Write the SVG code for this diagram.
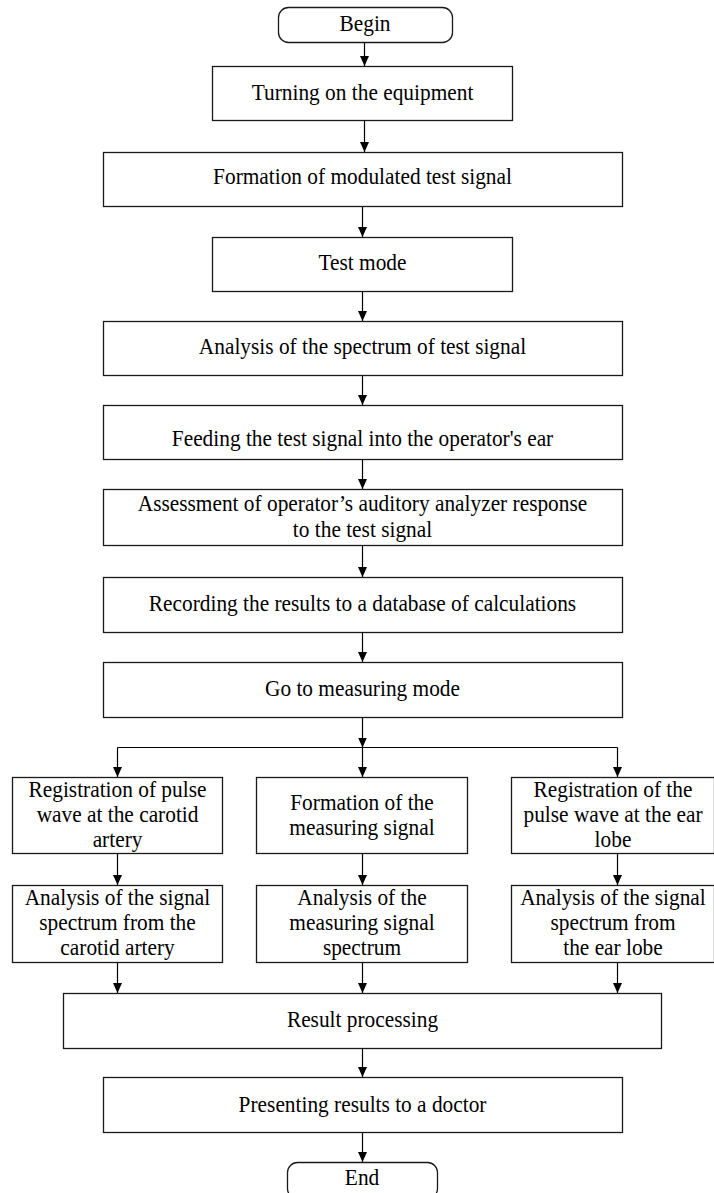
<svg xmlns="http://www.w3.org/2000/svg" width="714" height="1193" viewBox="0 0 714 1193">
<style>
.box{fill:#fff;stroke:#1a1a1a;stroke-width:1.3}
.t{font-family:'Liberation Serif','Tinos','Times New Roman','DejaVu Serif',serif;font-size:24px;fill:#000;text-anchor:middle;transform-box:fill-box;transform-origin:center;transform:scaleX(0.89)}
.ln{stroke:#000;stroke-width:1.2;fill:none}
</style>
<defs>
<marker id="ah" markerUnits="userSpaceOnUse" markerWidth="10" markerHeight="10" refX="10" refY="5" orient="auto">
<path d="M0,0.5 L10,5 L0,9.5 z" fill="#000"/>
</marker>
</defs>
<rect x="0" y="0" width="714" height="1193" fill="#fff"/>
<g id="connectors">
<line class="ln" x1="364.5" y1="42" x2="364.5" y2="66" marker-end="url(#ah)"/>
<line class="ln" x1="364.5" y1="121" x2="364.5" y2="152" marker-end="url(#ah)"/>
<line class="ln" x1="362.5" y1="207" x2="362.5" y2="237" marker-end="url(#ah)"/>
<line class="ln" x1="362.5" y1="292" x2="362.5" y2="321" marker-end="url(#ah)"/>
<line class="ln" x1="362.5" y1="376" x2="362.5" y2="405" marker-end="url(#ah)"/>
<line class="ln" x1="362.5" y1="460" x2="362.5" y2="489" marker-end="url(#ah)"/>
<line class="ln" x1="362.5" y1="546" x2="362.5" y2="577" marker-end="url(#ah)"/>
<line class="ln" x1="362.5" y1="633" x2="362.5" y2="662" marker-end="url(#ah)"/>
<line class="ln" x1="362.5" y1="718" x2="362.5" y2="747.5" marker-end="url(#ah)"/>
<line class="ln" x1="117.5" y1="747.5" x2="617.5" y2="747.5"/>
<line class="ln" x1="117.5" y1="747.5" x2="117.5" y2="777" marker-end="url(#ah)"/>
<line class="ln" x1="362.5" y1="747.5" x2="362.5" y2="777" marker-end="url(#ah)"/>
<line class="ln" x1="617.5" y1="747.5" x2="617.5" y2="777" marker-end="url(#ah)"/>
<line class="ln" x1="117.5" y1="854" x2="117.5" y2="885" marker-end="url(#ah)"/>
<line class="ln" x1="362.5" y1="854" x2="362.5" y2="885" marker-end="url(#ah)"/>
<line class="ln" x1="617.5" y1="854" x2="617.5" y2="885" marker-end="url(#ah)"/>
<line class="ln" x1="117.5" y1="963" x2="117.5" y2="993" marker-end="url(#ah)"/>
<line class="ln" x1="362.5" y1="963" x2="362.5" y2="993" marker-end="url(#ah)"/>
<line class="ln" x1="617.5" y1="963" x2="617.5" y2="993" marker-end="url(#ah)"/>
<line class="ln" x1="362.5" y1="1049" x2="362.5" y2="1077" marker-end="url(#ah)"/>
<line class="ln" x1="362.5" y1="1133" x2="362.5" y2="1162" marker-end="url(#ah)"/>
</g>
<g id="begin"><rect class="box" x="278.5" y="7.5" width="174" height="35" rx="10"/><text class="t" x="365" y="31.5">Begin</text></g>
<g id="turning"><rect class="box" x="212.5" y="66.5" width="300" height="54"/><text class="t" x="362.5" y="100.5">Turning on the equipment</text></g>
<g id="formation"><rect class="box" x="103.5" y="152.5" width="519" height="54"/><text class="t" x="362.5" y="184.5">Formation of modulated test signal</text></g>
<g id="testmode"><rect class="box" x="212.5" y="237.5" width="300" height="54"/><text class="t" x="362.5" y="270">Test mode</text></g>
<g id="analysis"><rect class="box" x="103.5" y="321.5" width="519" height="54"/><text class="t" x="362.5" y="354">Analysis of the spectrum of test signal</text></g>
<g id="feeding"><rect class="box" x="103.5" y="405.5" width="519" height="54"/><text class="t" x="362.5" y="446">Feeding the test signal into the operator's ear</text></g>
<g id="assessment"><rect class="box" x="103.5" y="489.5" width="519" height="56"/><text class="t" x="362.5" y="511">Assessment of operator’s auditory analyzer response</text><text class="t" x="362.5" y="537">to the test signal</text></g>
<g id="recording"><rect class="box" x="103.5" y="577.5" width="519" height="55"/><text class="t" x="362.5" y="611">Recording the results to a database of calculations</text></g>
<g id="measuring"><rect class="box" x="103.5" y="662.5" width="519" height="55"/><text class="t" x="362.5" y="696">Go to measuring mode</text></g>
<g id="reg-carotid"><rect class="box" x="12.5" y="777.5" width="210" height="76"/><text class="t" x="117.5" y="797">Registration of pulse</text><text class="t" x="117.5" y="822">wave at the carotid</text><text class="t" x="117.5" y="847">artery</text></g>
<g id="form-measuring"><rect class="box" x="256.5" y="777.5" width="211" height="76"/><text class="t" x="362" y="810">Formation of the</text><text class="t" x="362" y="835">measuring signal</text></g>
<g id="reg-ear"><rect class="box" x="511.5" y="777.5" width="203" height="76"/><text class="t" x="613" y="797">Registration of the</text><text class="t" x="613" y="822">pulse wave at the ear</text><text class="t" x="613" y="847">lobe</text></g>
<g id="an-carotid"><rect class="box" x="12.5" y="885.5" width="210" height="77"/><text class="t" x="117.5" y="905">Analysis of the signal</text><text class="t" x="117.5" y="930">spectrum from the</text><text class="t" x="117.5" y="955">carotid artery</text></g>
<g id="an-measuring"><rect class="box" x="256.5" y="885.5" width="211" height="77"/><text class="t" x="362" y="905">Analysis of the</text><text class="t" x="362" y="930">measuring signal</text><text class="t" x="362" y="955">spectrum</text></g>
<g id="an-ear"><rect class="box" x="511.5" y="885.5" width="203" height="77"/><text class="t" x="613" y="905">Analysis of the signal</text><text class="t" x="613" y="930">spectrum from</text><text class="t" x="613" y="955">the ear lobe</text></g>
<g id="result"><rect class="box" x="63.5" y="993.5" width="598" height="55"/><text class="t" x="362.5" y="1027">Result processing</text></g>
<g id="presenting"><rect class="box" x="103.5" y="1077.5" width="519" height="55"/><text class="t" x="362.5" y="1112">Presenting results to a doctor</text></g>
<g id="end"><rect class="box" x="287.5" y="1162.5" width="150" height="36" rx="10"/><text class="t" x="362" y="1185">End</text></g>
</svg>
